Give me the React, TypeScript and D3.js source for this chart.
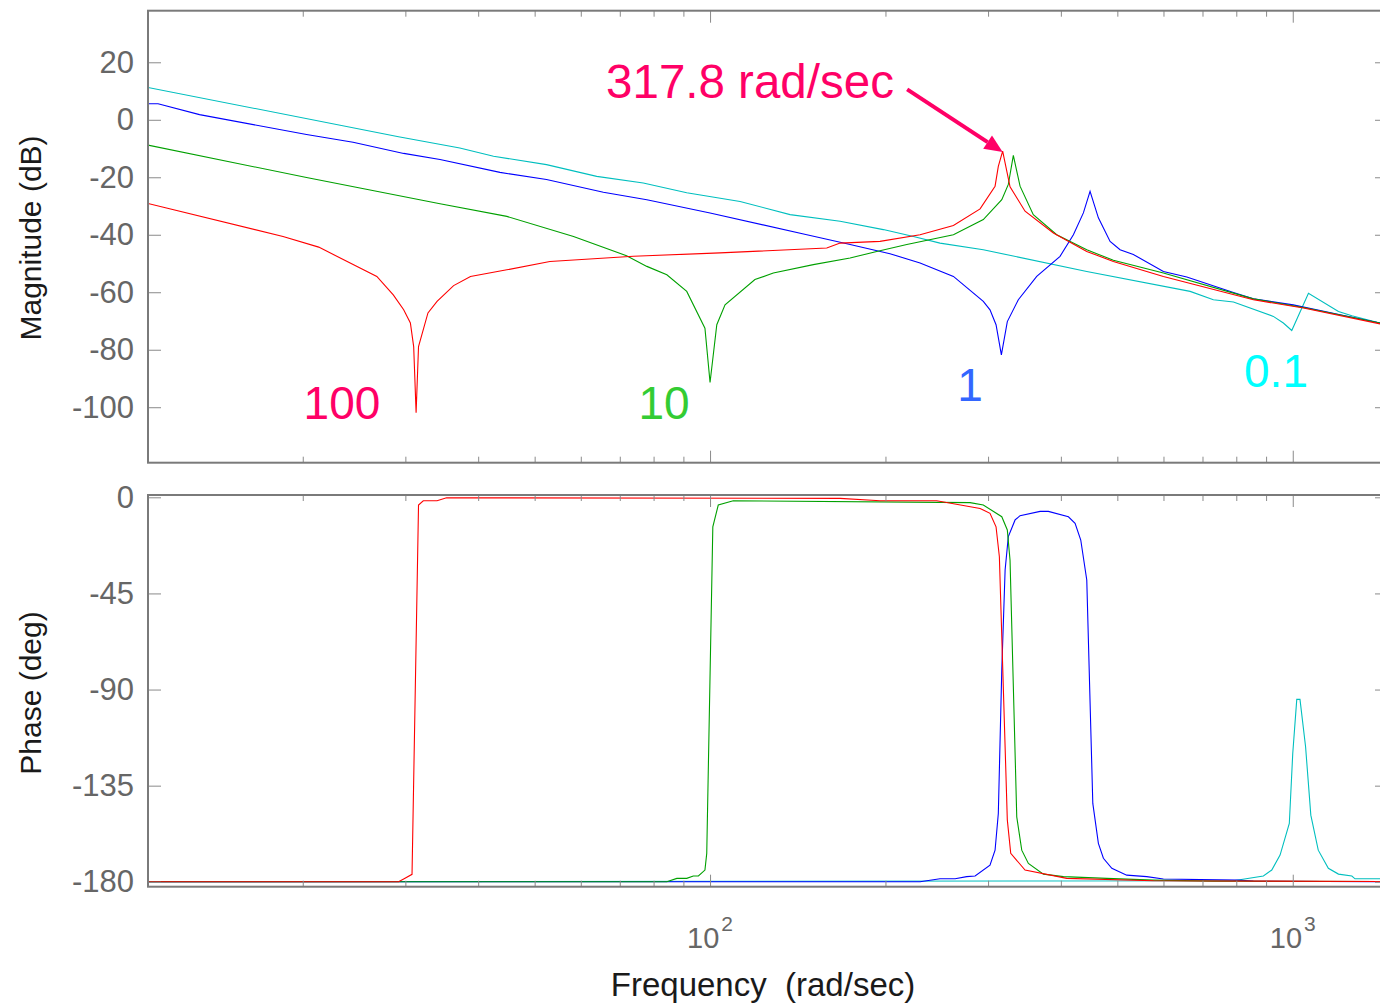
import { useEffect, useRef } from "react";
import * as d3 from "d3";

// Bode plot of four cases (parameter 100, 10, 1, 0.1)
// magnitude: [rad/sec, dB]
const magRed: [number, number][] = [
  [10.85, -29.1], [18.5, -40.6], [21.3, -44.3], [26.8, -54.5], [28.6, -60.9], [29.8, -66.1],
  [30.6, -70.7], [31.0, -78.9], [31.3, -101.9], [31.6, -78.9], [32.8, -67.2], [34.0, -63.2],
  [36.3, -57.7], [38.8, -54.5], [44.8, -52.2], [53.1, -49.3], [73.9, -47.5], [104, -46.3],
  [158.6, -44.6], [167.2, -42.9], [195.7, -42.3], [229.3, -40], [261.6, -36.8], [290.7, -31],
  [308.4, -23.1], [312.4, -16.2], [317.8, -10.9], [327.2, -23.3], [347.2, -31.8], [388.3, -39.4],
  [443.1, -45.8], [492.2, -49.3], [599.8, -54.5], [856, -62.6], [1043, -65.5], [1412, -71],
];

const magGreen: [number, number][] = [
  [10.85, -8.8], [20.3, -20.1], [34.4, -29.2], [44.8, -33.6], [58.3, -40.6], [71.9, -47.3],
  [77.9, -51], [84.3, -53.9], [91.2, -59.7], [98.0, -72.5], [100, -91.4], [102.7, -71.3],
  [106.1, -64.4], [119.4, -55.6], [128.4, -53.3], [150.4, -50.4], [173.9, -48.1], [193.2, -45.8],
  [217.6, -43.4], [261.6, -40], [294.4, -34.7], [316.7, -27.8], [325.0, -22.5], [331.5, -12.4],
  [340.4, -23.1], [358.7, -33], [393.5, -40], [443.1, -45.2], [492.2, -48.9], [599.8, -53.3],
  [856, -62.3], [1043, -65.3], [1412, -70.7],
];

const magBlue: [number, number][] = [
  [10.85, 5.6], [11.29, 5.6], [13.3, 1.8], [20.3, -5.1], [24.4, -7.8], [29.8, -11.7],
  [34.4, -13.8], [43.6, -18.3], [52.4, -20.8], [65.6, -25.2], [77.9, -27.8], [100, -32.4],
  [146.6, -40], [171.7, -43.1], [203.6, -46.6], [229.3, -49.8], [261.6, -54.5], [294.4, -63.2],
  [302.3, -66.1], [309.6, -71.3], [316.2, -81.8], [323.7, -70.2], [338.1, -62.6], [363.6, -54.5],
  [398.7, -47.5], [420.3, -40], [437.2, -32.4], [448.9, -24.9], [463.9, -34.1], [485.9, -42.3],
  [505.4, -45.2], [532.7, -46.9], [599.8, -52.8], [657.9, -54.7], [791.1, -60.1], [856, -62.3],
  [1002, -64.4], [1206, -67.8], [1412, -70.7],
];

const magCyan: [number, number][] = [
  [10.85, 11.25], [29.2, -5.9], [37.2, -9.8], [42.5, -12.7], [52.4, -15.6], [63.9, -19.7],
  [76.8, -22], [91.2, -25.4], [112.6, -28.4], [137.2, -33], [167.2, -35.3], [198.3, -38.2],
  [223.4, -40.6], [248.1, -42.9], [294.4, -45.2], [443.1, -52.8], [666.6, -59.7], [730.8, -62.6],
  [791.1, -63.4], [926.2, -68.4], [963.6, -70.7], [996.1, -73.3], [1064, -60.4], [1198, -66.7],
  [1263, -68.2], [1412, -70.7],
];

// phase: [rad/sec, deg]
const phaseRed: [number, number][] = [
  [10.85, -180], [29.2, -180], [29.8, -178.7], [30.8, -176.5], [31.6, -3.6], [32.2, -1.6],
  [34.0, -1.6], [35.3, -0.2], [167.2, -0.5], [195.7, -1.6], [244.9, -1.6], [290.7, -5.2],
  [302.3, -7.5], [309.6, -13.8], [313.7, -27.8], [323.7, -151], [328.1, -166.7], [347.2, -174.5],
  [409.4, -178.4], [576.6, -179.5], [1412, -179.9],
];

const phaseGreen: [number, number][] = [
  [10.85, -180], [84.3, -180], [87.7, -178.4], [91.2, -178.4], [93.6, -177.3], [95.5, -177.3],
  [98.0, -174.5], [98.7, -166.7], [101.1, -13.8], [103.3, -3.6], [109.6, -1.6], [279.4, -2.5],
  [294.4, -3.6], [316.7, -9.1], [323.7, -15.3], [327.2, -29.4], [336.0, -149.6], [342.7, -165.2],
  [351.8, -171.4], [373.3, -176.4], [404.0, -177.6], [479.6, -178.4], [576.6, -179.2],
  [730.8, -179.7], [1412, -179.9],
];

const phaseBlue: [number, number][] = [
  [10.85, -180], [229.3, -180], [248.1, -178.6], [263.4, -178.6], [275.7, -177.6], [285.0, -177.3],
  [302.3, -172.2], [308.4, -165.2], [312.4, -148], [316.7, -80.9], [320.9, -34], [325.0, -18.4],
  [333.8, -10.6], [340.4, -8.6], [368.5, -6.6], [380.7, -6.6], [412.1, -9.1], [423.1, -12.2],
  [432.7, -20], [443.1, -38.7], [453.8, -143.3], [463.9, -162], [473.2, -169], [489.2, -173.7],
  [518.9, -176.9], [561.6, -177.6], [599.8, -178.7], [801.7, -179.2], [856, -179.7], [1412, -180],
];

const phaseCyan: [number, number][] = [
  [10.85, -180], [791.1, -179.5], [890.4, -177.3], [920.4, -174.5], [951.1, -167.5],
  [986.5, -152.7], [1000, -119.9], [1016, -94.6], [1029, -94.6], [1052, -116.8], [1074, -148.8],
  [1106, -165.2], [1151, -173.7], [1198, -176.4], [1263, -177.3], [1279, -178.6], [1412, -178.6],
];

const magTicks = [20, 0, -20, -40, -60, -80, -100];
const phaseTicks = [0, -45, -90, -135, -180];
const decadeTicks = [100, 1000];

const series = [
  { mag: magCyan, phase: phaseCyan, color: "#00bfbf" },
  { mag: magBlue, phase: phaseBlue, color: "#0000ff" },
  { mag: magGreen, phase: phaseGreen, color: "#00a000" },
  { mag: magRed, phase: phaseRed, color: "#ff0000" },
];

// curve labels, anchored in data coordinates of the magnitude panel
const curveLabels = [
  { text: "100", f: 23.35, db: -104.2, color: "#ff0066" },
  { text: "10", f: 83.4, db: -104.2, color: "#33cc33" },
  { text: "1", f: 279.4, db: -98, color: "#3366ff" },
  { text: "0.1", f: 936, db: -92.8, color: "#00ffff" },
];

const FONT = "'Liberation Sans', Arial, Helvetica, sans-serif";

export default function App() {
  const svgRef = useRef<SVGSVGElement>(null);

  useEffect(() => {
    const svg = d3.select(svgRef.current);
    svg.selectAll("*").remove();

    const left = 148;
    const right = 1388; // right frame sits just past the visible edge
    const x = d3.scaleLog().domain([10.85, 1457]).range([left, right]);

    const panels = [
      { top: 10.7, bottom: 462.7, y: d3.scaleLinear().domain([-119.3, 37.95]).range([462.7, 10.7]), ticks: magTicks, key: "mag" },
      { top: 495, bottom: 886.7, y: d3.scaleLinear().domain([-182.3, 1.08]).range([886.7, 495]), ticks: phaseTicks, key: "phase" },
    ];

    const minorTicks = x.ticks().filter((t) => !decadeTicks.includes(t));

    panels.forEach((p, i) => {
      const clipId = `clip-${i}`;
      svg
        .append("clipPath")
        .attr("id", clipId)
        .append("rect")
        .attr("x", left)
        .attr("y", p.top)
        .attr("width", right - left)
        .attr("height", p.bottom - p.top);

      const line = d3
        .line<[number, number]>()
        .x((d) => x(d[0]))
        .y((d) => p.y(d[1]));

      const g = svg.append("g").attr("clip-path", `url(#${clipId})`);
      series.forEach((s) => {
        g.append("path")
          .attr("d", line(p.key === "mag" ? s.mag : s.phase))
          .attr("fill", "none")
          .attr("stroke", s.color)
          .attr("stroke-width", 1.1);
      });

      const styleAxis = (sel: any) => {
        sel.select(".domain").remove();
        sel.selectAll("line").attr("stroke", "#8a8a8a").attr("stroke-width", 1);
        sel.selectAll("text").attr("fill", "#666").style("font-size", "31px").style("font-family", FONT);
      };

      // y ticks, left with labels, right without
      svg
        .append("g")
        .attr("transform", `translate(${left},0)`)
        .call(d3.axisLeft(p.y).tickValues(p.ticks).tickSize(-13).tickPadding(14).tickFormat((d: any) => `${d}`))
        .call(styleAxis);
      svg
        .append("g")
        .attr("transform", `translate(${right},0)`)
        .call(d3.axisRight(p.y).tickValues(p.ticks).tickSize(-13).tickFormat(() => ""))
        .call(styleAxis);

      // x ticks on top and bottom edges
      [
        { axis: d3.axisTop, at: p.top },
        { axis: d3.axisBottom, at: p.bottom },
      ].forEach(({ axis, at }) => {
        svg
          .append("g")
          .attr("transform", `translate(0,${at})`)
          .call(axis(x).tickValues(minorTicks).tickSize(-6).tickFormat(() => ""))
          .call(styleAxis);
        svg
          .append("g")
          .attr("transform", `translate(0,${at})`)
          .call(axis(x).tickValues(decadeTicks).tickSize(-12).tickFormat(() => ""))
          .call(styleAxis);
      });

      svg
        .append("rect")
        .attr("x", left)
        .attr("y", p.top)
        .attr("width", right - left)
        .attr("height", p.bottom - p.top)
        .attr("fill", "none")
        .attr("stroke", "#7a7a7a")
        .attr("stroke-width", 2);
    });

    // decade labels 10^2, 10^3
    decadeTicks.forEach((t) => {
      const txt = svg
        .append("text")
        .attr("x", x(t))
        .attr("y", 948)
        .attr("text-anchor", "middle")
        .attr("fill", "#666")
        .style("font-family", FONT)
        .style("font-size", "29px");
      txt.append("tspan").text("10");
      txt
        .append("tspan")
        .attr("dx", 2)
        .attr("dy", -17)
        .style("font-size", "21px")
        .text(`${Math.round(Math.log10(t))}`);
    });

    // axis titles
    const yMag = panels[0].y;
    const title = (text: string, cx: number, cy: number, rotate: boolean, size: number) =>
      svg
        .append("text")
        .attr("transform", `translate(${cx},${cy})${rotate ? " rotate(-90)" : ""}`)
        .attr("text-anchor", "middle")
        .attr("fill", "#1a1a1a")
        .style("font-family", FONT)
        .style("font-size", `${size}px`)
        .style("white-space", "pre")
        .text(text);
    title("Magnitude (dB)", 41, 238, true, 30);
    title("Phase (deg)", 41, 693, true, 30);
    title("Frequency  (rad/sec)", 763, 996, false, 33);

    // curve labels
    curveLabels.forEach((c) => {
      svg
        .append("text")
        .attr("x", x(c.f))
        .attr("y", yMag(c.db))
        .attr("text-anchor", "middle")
        .attr("fill", c.color)
        .style("font-family", FONT)
        .style("font-size", "46px")
        .text(c.text);
    });

    // peak annotation with arrow
    const pink = "#ff0066";
    svg
      .append("text")
      .attr("x", x(66.3))
      .attr("y", yMag(7.7))
      .attr("fill", pink)
      .style("font-family", FONT)
      .style("font-size", "47.5px")
      .text("317.8 rad/sec");

    const x0 = x(217.9), y0 = yMag(10.6);
    const x1 = x(317.8), y1 = yMag(-11.2);
    const ang = Math.atan2(y1 - y0, x1 - x0);
    const headLen = 18, headW = 8;
    const bx = x1 - headLen * Math.cos(ang), by = y1 - headLen * Math.sin(ang);
    svg
      .append("line")
      .attr("x1", x0)
      .attr("y1", y0)
      .attr("x2", bx)
      .attr("y2", by)
      .attr("stroke", pink)
      .attr("stroke-width", 4);
    svg
      .append("path")
      .attr(
        "d",
        `M${x1},${y1}L${bx + headW * Math.sin(ang)},${by - headW * Math.cos(ang)}L${bx - headW * Math.sin(ang)},${by + headW * Math.cos(ang)}Z`
      )
      .attr("fill", pink);
  }, []);

  return (
    <svg
      ref={svgRef}
      width={1380}
      height={1007}
      style={{ position: "absolute", left: 0, top: 0, background: "#fff" }}
    />
  );
}
